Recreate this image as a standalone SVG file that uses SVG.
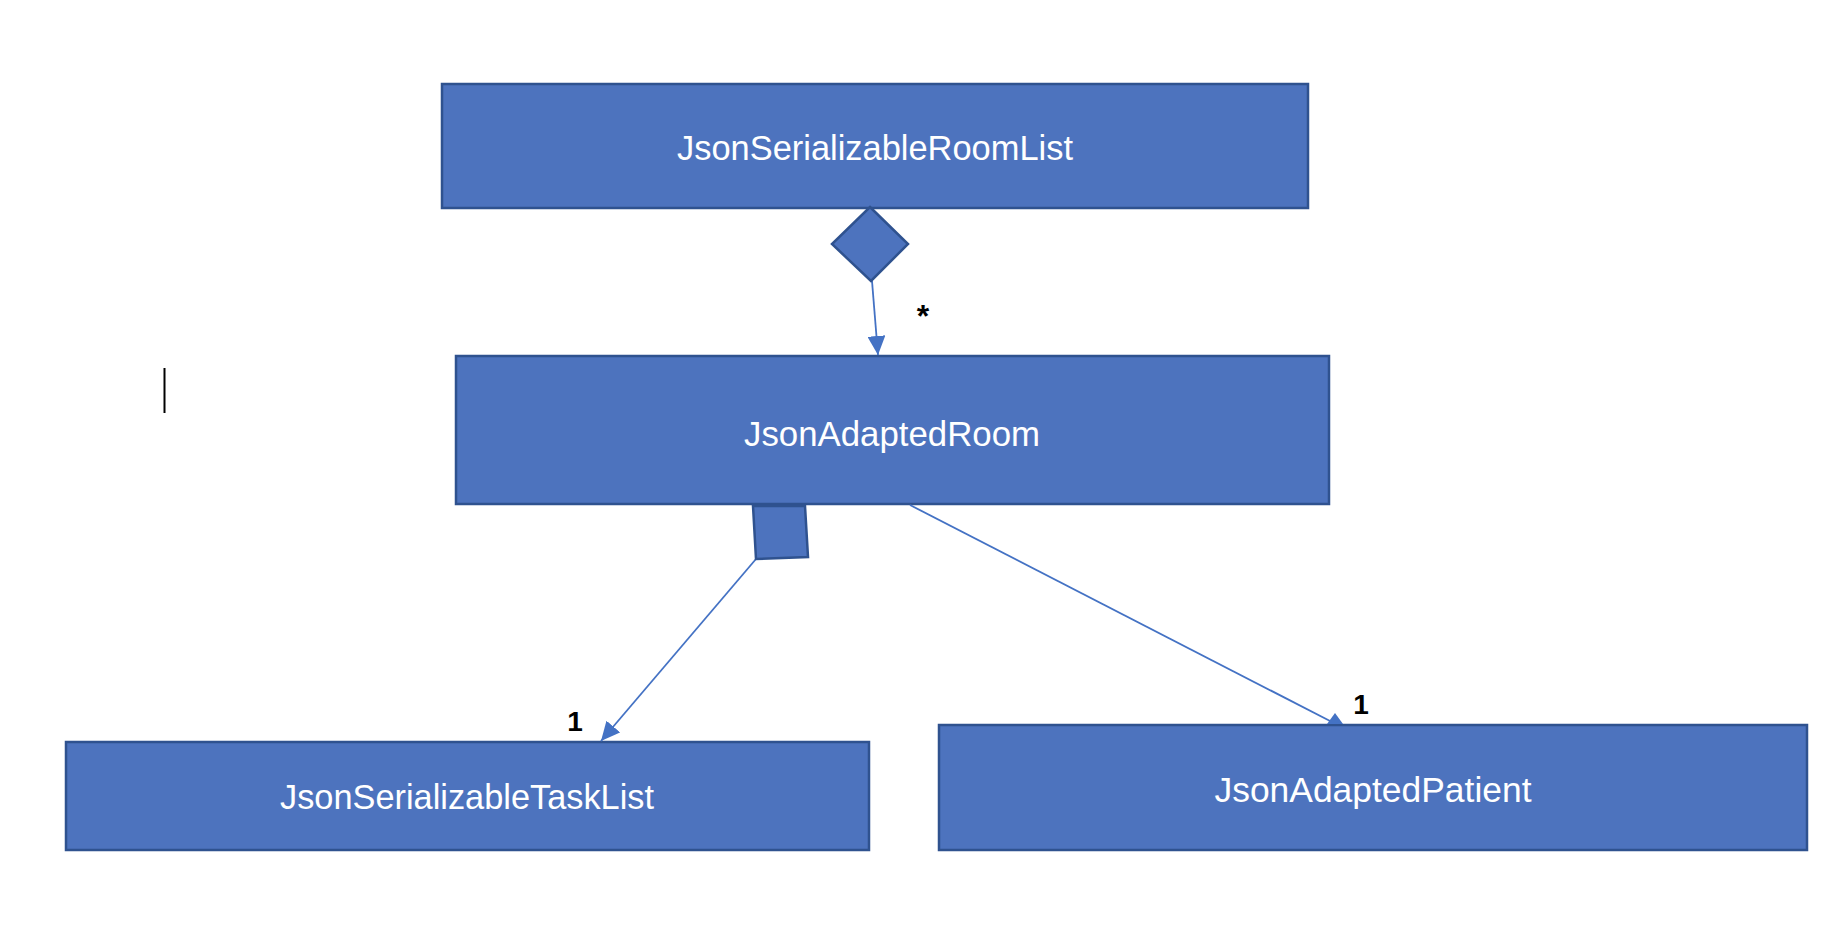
<svg xmlns="http://www.w3.org/2000/svg" width="1834" height="938" viewBox="0 0 1834 938">
  <style>
    .box { fill: #4D73BE; stroke: #2F528F; stroke-width: 2.5; }
    .lbl { fill: #FFFFFF; font-family: "Liberation Sans", Arial, sans-serif; font-size: 35px; text-anchor: middle; }
    .edge { stroke: #4472C4; stroke-width: 1.8; fill: none; }
    .deco { fill: #4D73BE; stroke: #2F528F; stroke-width: 2.5; }
    .mult { fill: #000000; font-family: "Liberation Sans", Arial, sans-serif; text-anchor: middle; font-weight: bold; }
  </style>
  <defs>
    <marker id="arrow" markerUnits="userSpaceOnUse" markerWidth="19" markerHeight="18" refX="19" refY="9" orient="auto">
      <path d="M0,0 L19,9 L0,18 z" fill="#4472C4"/>
    </marker>
  </defs>
  <rect width="1834" height="938" fill="#FFFFFF"/>

  <g id="node-roomlist">
    <rect class="box" x="442" y="84" width="866" height="124"/>
    <text class="lbl" x="875" y="160" textLength="396" lengthAdjust="spacingAndGlyphs">JsonSerializableRoomList</text>
  </g>
  <g id="node-room">
    <rect class="box" x="456" y="356" width="873" height="148"/>
    <text class="lbl" x="892" y="446" textLength="296" lengthAdjust="spacingAndGlyphs">JsonAdaptedRoom</text>
  </g>
  <g id="node-tasklist">
    <rect class="box" x="66" y="742" width="803" height="108"/>
    <text class="lbl" x="467" y="809" textLength="374" lengthAdjust="spacingAndGlyphs">JsonSerializableTaskList</text>
  </g>
  <g id="node-patient">
    <rect class="box" x="939" y="725" width="868" height="125"/>
    <text class="lbl" x="1373" y="802" textLength="317" lengthAdjust="spacingAndGlyphs">JsonAdaptedPatient</text>
  </g>

  <g id="connectors">
    <line class="edge" x1="872" y1="281" x2="878" y2="355" marker-end="url(#arrow)"/>
    <polygon class="deco" points="870,207 908,244 871,281 832,244"/>
    <text class="mult" x="923" y="327" font-size="32">*</text>

    <line class="edge" x1="756" y1="559" x2="601" y2="741" marker-end="url(#arrow)"/>
    <polygon class="deco" points="753,506 805,506 808,557 756,559"/>
    <text class="mult" x="575" y="731" font-size="28">1</text>

    <line class="edge" x1="910" y1="505" x2="1332" y2="722"/>
    <polygon points="1335,713 1327,724 1343,724" fill="#4472C4"/>
    <text class="mult" x="1361" y="714" font-size="28">1</text>
  </g>

  <line x1="164.5" y1="368" x2="164.5" y2="413" stroke="#000000" stroke-width="2"/>
</svg>
